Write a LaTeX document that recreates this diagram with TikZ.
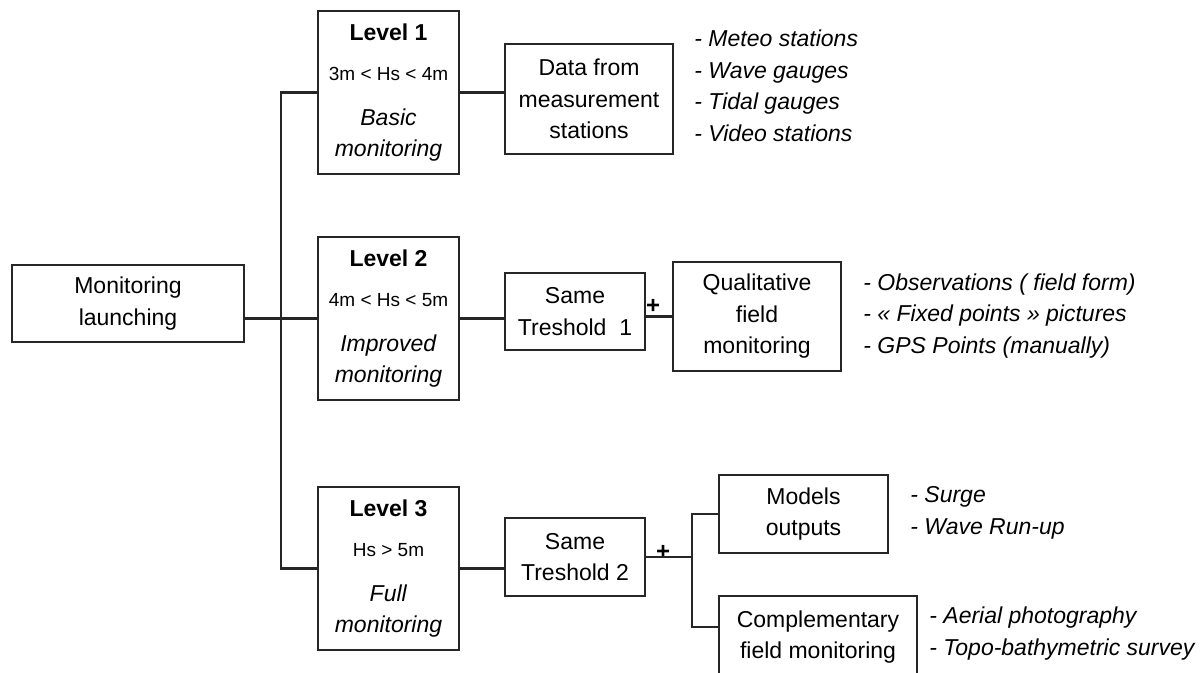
\documentclass[tikz,border=0pt]{standalone}
\usepackage{fontspec}
\setmainfont{Liberation Sans}
\usepackage{tikz}
\usetikzlibrary{positioning,calc}

\begin{document}
\begin{tikzpicture}[x=0.5pt,y=-0.5pt,
  box/.style={rectangle,draw=black!85,line width=1.1pt,inner sep=0pt,align=center,font=\fontsize{11.5}{15.75}\selectfont},
  level/.style={box,minimum width=70.5pt,minimum height=81.5pt},
  link/.style={draw=black!85,line width=1.1pt},
  items/.style={inner sep=0pt,align=left,font=\fontsize{11.5}{15.75}\selectfont\itshape},
  plus/.style={inner sep=0pt,font=\fontsize{12}{12}\selectfont\bfseries},
]
\clip (0,0) rectangle (1203,673);

% Launch
\node[box,minimum width=116.25pt,minimum height=38.5pt] (launch) at (128,303.5) {Monitoring\\launching};

% Levels
\node[level] (lev1) at (388.5,92.5) {\textbf{Level 1}\\[4.25pt]{\fontsize{9.5}{12}\selectfont 3m < Hs < 4m}\\[6.75pt]\textit{Basic}\\\textit{monitoring}};
\node[level] (lev2) at (388.5,318.5) {\textbf{Level 2}\\[4.25pt]{\fontsize{9.5}{12}\selectfont 4m < Hs < 5m}\\[6.75pt]\textit{Improved}\\\textit{monitoring}};
\node[level] (lev3) at (388.5,568.5) {\textbf{Level 3}\\[4.25pt]{\fontsize{9.5}{12}\selectfont Hs > 5m}\\[6.75pt]\textit{Full}\\\textit{monitoring}};

% Level 1 branch
\node[box,minimum width=84pt,minimum height=55pt] (data) at (589,99) {Data from\\measurement\\stations};
\node[items,anchor=west] (list1) at (694,86) {- Meteo stations\\- Wave gauges\\- Tidal gauges\\- Video stations};

% Level 2 branch
\node[box,minimum width=70pt,minimum height=38.5pt] (same1) at (575,311.5) {Same\\Treshold\ \ 1};
\node[box,minimum width=84.25pt,minimum height=54.5pt] (qual) at (757,316.5) {Qualitative\\field\\monitoring};
\node[items,anchor=west] (list2) at (863,316) {- Observations ( field form)\\- « Fixed points » pictures\\- GPS Points (manually)};
\node[plus] (plus1) at (653,306) {+};

% Level 3 branch
\node[box,minimum width=70pt,minimum height=39pt] (same2) at (575,557) {Same\\Treshold 2};
\node[box,minimum width=84.5pt,minimum height=39pt] (models) at (803.5,514) {Models\\outputs};
\node[box,minimum width=99pt,minimum height=41pt] (compl) at (818,637) {Complementary\\field monitoring};
\node[items,anchor=west] (list3) at (910,513) {- Surge\\- Wave Run-up};
\node[items,anchor=west] (list4) at (929,633.5) {- Aerial photography\\- Topo-bathymetric survey};
\node[plus] (plus2) at (663,552) {+};

% Links
\coordinate (trunk) at (281,0);
\coordinate (fork) at (692,0);
\draw[link] (lev1.west) -- (lev1.west -| trunk) -- (lev3.west -| trunk) -- (lev3.west);
\draw[link] (launch.east |- lev2.west) -- (lev2.west);
\draw[link] (lev1.east) -- (lev1.east -| data.west);
\draw[link] (lev2.east) -- (lev2.east -| same1.west);
\draw[link] (same1.east |- qual.west) -- (qual.west);
\draw[link] (lev3.east) -- (lev3.east -| same2.west);
\draw[link] (same2.east) -- (same2.east -| fork);
\draw[link] (models.west) -- (models.west -| fork) -- ([yshift=5pt]compl.west -| fork) -- ([yshift=5pt]compl.west);

\end{tikzpicture}
\end{document}
